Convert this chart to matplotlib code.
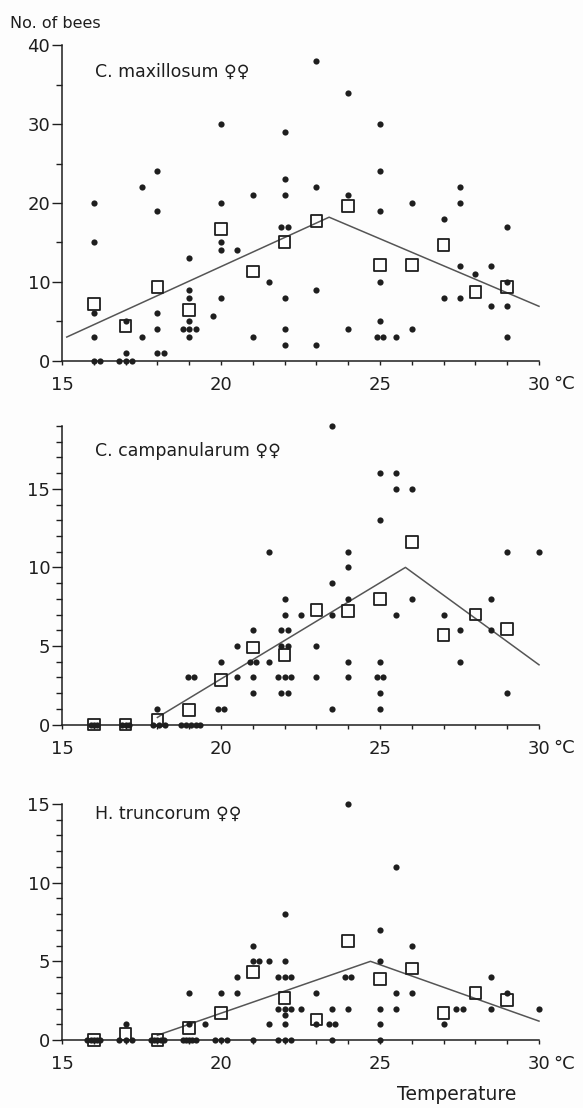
import numpy as np
import matplotlib.pyplot as plt
from matplotlib.ticker import FixedLocator

plt.rcParams['font.family'] = ['DejaVu Sans']

# C. maxillosum: single counts, temperature means and the fitted line
max_t = [16, 16, 16, 16, 16, 16.2, 17, 17, 16.8, 17, 17.2, 17.5, 17.5,
         18, 18, 18, 18, 18, 18.2, 19, 19, 19, 19, 18.8, 19, 19.2, 19, 19.75,
         20, 20, 20, 20, 20, 20.5, 21, 21, 21.5,
         22, 22, 22, 21.9, 22.1, 22, 22, 22, 23, 23, 23, 23, 24, 24, 24,
         25, 25, 25, 25, 25, 24.9, 25.1, 25.5, 26, 26, 27, 27,
         27.5, 27.5, 27.5, 27.5, 28, 28.5, 28.5, 29, 29, 29, 29]
max_n = [20, 15, 6, 3, 0, 0, 5, 1, 0, 0, 0, 22, 3,
         24, 19, 6, 4, 1, 1, 13, 9, 8, 5, 4, 4, 4, 3, 5.7,
         30, 20, 15, 14, 8, 14, 21, 3, 10,
         29, 23, 21, 17, 17, 8, 4, 2, 38, 22, 9, 2, 34, 21, 4,
         30, 24, 19, 10, 5, 3, 3, 3, 20, 4, 18, 8,
         22, 20, 12, 8, 11, 12, 7, 17, 10, 7, 3]
max_mean_t = [16, 17, 18, 19, 20, 21, 22, 23, 24, 25, 26, 27, 28, 29]
max_mean_n = [7.2, 4.4, 9.3, 6.4, 16.7, 11.3, 15.1, 17.7, 19.6, 12.1, 12.1, 14.7, 8.7, 9.3]
max_fit_t = [15.15, 23.4, 30]
max_fit_n = [3.0, 18.2, 6.9]

# C. campanularum
cam_t = [15.9, 16.0, 16.1, 16.9, 17.0, 17.1, 18, 17.85, 18.05, 18.25,
         18.95, 19.15, 18.75, 18.9, 19.05, 19.2, 19.35, 20, 19.9, 20.1,
         20.5, 20.5, 21, 20.9, 21.1, 21, 21, 21.5, 21.5,
         22, 22, 21.9, 22.1, 21.9, 22.1, 21.8, 22, 22.2, 21.9, 22.1, 22.5,
         23, 23, 23.5, 23.5, 23.5, 23.5, 24, 24, 24, 24, 24,
         25, 25, 25, 24.9, 25.1, 25, 25, 25.5, 25.5, 25.5, 26, 26, 27,
         27.5, 27.5, 28.5, 28.5, 29, 29, 30]
cam_n = [0, 0, 0, 0, 0, 0, 1, 0, 0, 0,
         3, 3, 0, 0, 0, 0, 0, 4, 1, 1,
         5, 3, 6, 4, 4, 3, 2, 11, 4,
         8, 7, 6, 6, 5, 5, 3, 3, 3, 2, 2, 7,
         5, 3, 19, 9, 7, 1, 11, 10, 8, 4, 3,
         16, 13, 4, 3, 3, 2, 1, 16, 15, 7, 15, 8, 7,
         6, 4, 8, 6, 11, 2, 11]
cam_mean_t = [16, 17, 18, 19, 20, 21, 22, 23, 24, 25, 26, 27, 28, 29]
cam_mean_n = [0, 0, 0.27, 0.9, 2.85, 4.9, 4.4, 7.3, 7.2, 8.0, 11.6, 5.7, 7.0, 6.06]
cam_fit_t = [18.0, 25.8, 30]
cam_fit_n = [0.45, 10.0, 3.8]

# H. truncorum
tru_t = [15.8, 15.9, 16.0, 16.1, 16.2, 17, 16.8, 17.0, 17.2,
         17.8, 17.9, 18.0, 18.1, 18.2, 19, 19, 18.8, 18.9, 19.0, 19.1, 19.2,
         19.5, 20, 19.8, 20.0, 20.2, 20.5, 20.5, 21, 21.0, 21.2, 21, 21.5, 21.5,
         22, 22, 21.8, 22, 22.2, 21.8, 22, 22.2, 22, 22, 21.8, 22, 22.2,
         22.5, 23, 23, 23.5, 23.4, 23.6, 23.5, 24, 23.9, 24.1, 24,
         25, 25, 25, 25, 25, 25.5, 25.5, 25.5, 26, 26, 27, 27.4, 27.6,
         28.5, 28.5, 29, 30]
tru_n = [0, 0, 0, 0, 0, 1, 0, 0, 0,
         0, 0, 0, 0, 0, 3, 1, 0, 0, 0, 0, 0,
         1, 3, 0, 0, 0, 4, 3, 6, 5, 5, 0, 5, 1,
         8, 5, 4, 4, 4, 2, 2, 2, 1.6, 1, 0, 0, 0,
         2, 3, 1, 2, 1, 1, 0, 15, 4, 4, 2,
         7, 5, 2, 1, 0, 11, 3, 2, 6, 3, 1, 2, 2,
         4, 2, 3, 2]
tru_mean_t = [16, 17, 18, 19, 20, 21, 22, 23, 24, 25, 26, 27, 28, 29]
tru_mean_n = [0, 0.4, 0, 0.75, 1.7, 4.3, 2.65, 1.3, 6.3, 3.9, 4.55, 1.7, 3.0, 2.54]
tru_fit_t = [18.0, 24.7, 30]
tru_fit_n = [0.3, 5.0, 1.2]

ink = '#1e1e1e'
W, H = 583, 1108
fig = plt.figure(figsize=(W / 100, H / 100), dpi=100)
fig.patch.set_facecolor('#fdfdfd')


def panel(top, bottom, ymax, major, minor, title, title_y, t, n, mt, mn, ft, fn):
    ax = fig.add_axes([62 / W, 1 - bottom / H, 477 / W, (bottom - top) / H])
    ax.set_facecolor('none')
    ax.set_xlim(15, 30)
    ax.set_ylim(0, ymax)
    for s in ['top', 'right']:
        ax.spines[s].set_visible(False)
    for s in ['left', 'bottom']:
        ax.spines[s].set_color(ink)
        ax.spines[s].set_linewidth(1.1)
    ax.plot(ft, fn, color='#555555', lw=1.1, zorder=2, clip_on=False)
    ax.scatter(t, n, s=20, color=ink, linewidths=0, zorder=3, clip_on=False)
    ax.scatter(mt, mn, s=72, marker='s', facecolors='none', edgecolors=ink,
               linewidths=1.3, zorder=4, clip_on=False)
    ax.set_yticks(major)
    ax.yaxis.set_minor_locator(FixedLocator(minor))
    ax.set_xticks([15, 20, 25, 30])
    ax.xaxis.set_minor_locator(FixedLocator(np.arange(15, 31)))
    ax.tick_params(axis='y', which='major', length=7, width=1.0, color=ink,
                   labelsize=13, labelcolor=ink, pad=1.5)
    ax.tick_params(axis='y', which='minor', length=4, width=1.0, color=ink)
    ax.tick_params(axis='x', which='both', length=3, width=1.0, color=ink,
                   labelsize=13, labelcolor=ink, pad=8)
    # unit next to the last tick label
    ax.annotate('°C', xy=(30, 0), xycoords='data', xytext=(10, -10.5),
                textcoords='offset points', fontsize=13, color=ink,
                ha='left', va='top', annotation_clip=False)
    fig.text(95 / W, 1 - title_y / H, title, fontsize=12.5, color=ink,
             ha='left', va='center')
    return ax


panel(45.3, 360.7, 40, [0, 10, 20, 30, 40], [5, 15, 25, 35],
      'C. maxillosum ♀♀', 72, max_t, max_n, max_mean_t, max_mean_n, max_fit_t, max_fit_n)
panel(426, 724.5, 19, [0, 5, 10, 15], np.arange(0, 20),
      'C. campanularum ♀♀', 451, cam_t, cam_n, cam_mean_t, cam_mean_n, cam_fit_t, cam_fit_n)
panel(804, 1040, 15, [0, 5, 10, 15], np.arange(0, 16),
      'H. truncorum ♀♀', 814, tru_t, tru_n, tru_mean_t, tru_mean_n, tru_fit_t, tru_fit_n)

fig.text(10 / W, 1 - 24 / H, 'No. of bees', fontsize=11.5, color=ink, ha='left', va='center')
fig.text(457 / W, 1 - 1095 / H, 'Temperature', fontsize=13.5, color=ink, ha='center', va='center')

fig.savefig('out.png', dpi=100, facecolor=fig.get_facecolor())
